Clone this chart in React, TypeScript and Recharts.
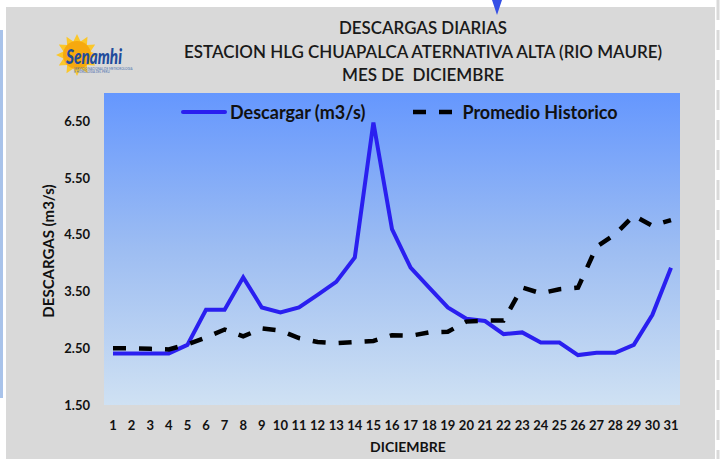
import { Label, Line, LineChart, XAxis, YAxis } from 'recharts'

const FONT = 'Lato, "Open Sans", sans-serif'
const BLUE = '#2a1ff0'

// dias del mes
const days = Array.from({ length: 31 }, (_, i) => String(i + 1))

// caudal diario (m3/s)
const descarga = [
  2.41, 2.41, 2.41, 2.41, 2.56, 3.18, 3.18, 3.75, 3.22, 3.13, 3.22, 3.44, 3.67, 4.1, 6.48, 4.6,
  3.92, 3.57, 3.22, 3.02, 2.98, 2.75, 2.78, 2.6, 2.6, 2.38, 2.42, 2.42, 2.56, 3.09, 3.92,
]

// promedio historico (m3/s)
const promedio = [
  2.5, 2.5, 2.49, 2.48, 2.57, 2.69, 2.83, 2.71, 2.85, 2.81, 2.68, 2.61, 2.59, 2.61, 2.63, 2.73,
  2.72, 2.78, 2.79, 2.97, 2.99, 2.99, 3.57, 3.47, 3.54, 3.57, 4.29, 4.51, 4.84, 4.66, 4.76,
]

const yTicks = [1.5, 2.5, 3.5, 4.5, 5.5, 6.5]

const titleLines = [
  'DESCARGAS DIARIAS',
  'ESTACION HLG CHUAPALCA ATERNATIVA ALTA (RIO MAURE)',
  'MES DE  DICIEMBRE',
]

const data = days.map((d, i) => ({ dia: d, descarga: descarga[i], promedio: promedio[i] }))

const tickStyle = { fill: '#111', fontSize: 13, fontWeight: 700, fontFamily: FONT }

function LegendBox() {
  return (
    <div
      style={{
        position: 'absolute',
        left: 181,
        top: 101,
        display: 'flex',
        alignItems: 'center',
        fontFamily: FONT,
        fontWeight: 700,
        fontSize: 18,
        color: '#111',
        whiteSpace: 'nowrap',
      }}
    >
      <svg width={46} height={10}>
        <line x1={2} x2={44} y1={5} y2={5} stroke={BLUE} strokeWidth={4} strokeLinecap="round" />
      </svg>
      <span style={{ marginLeft: 3 }}>Descargar (m3/s)</span>
      <svg width={46} height={10} style={{ marginLeft: 46 }}>
        <line x1={2} x2={44} y1={5} y2={5} stroke="#000" strokeWidth={4.5} strokeDasharray="13 13" />
      </svg>
      <span style={{ marginLeft: 5 }}>Promedio Historico</span>
    </div>
  )
}

function Sun() {
  const pts: string[] = []
  for (let i = 0; i < 24; i++) {
    const r = i % 2 === 0 ? 21 : 14
    const a = (i * Math.PI) / 12
    pts.push(`${77 + r * Math.cos(a)},${55 + r * Math.sin(a)}`)
  }
  return (
    <g>
      <polygon points={pts.join(' ')} fill="#fbc72a" />
      <circle cx={77} cy={55} r={14} fill="#f6a90f" />
    </g>
  )
}

export default function App() {
  return (
    <div style={{ position: 'absolute', left: 0, top: 0, width: 721, height: 459, background: '#fff', overflow: 'hidden' }}>
      <div style={{ position: 'absolute', left: 0, top: 30, width: 3, height: 368, background: '#a9c3ea' }} />
      <div
        style={{
          position: 'absolute',
          left: 6,
          top: 7,
          width: 709,
          height: 460,
          background: '#d9d9d9',
          outline: '2px dashed #ffffff',
        }}
      />
      <div
        style={{
          position: 'absolute',
          left: 104,
          top: 93,
          width: 576,
          height: 312,
          background: 'linear-gradient(to bottom, #6597fe 0%, #9dbdf2 50%, #cfe1f3 100%)',
        }}
      />
      <div style={{ position: 'absolute', left: 0, top: 0 }}>
        <LineChart width={721} height={459} data={data} margin={{ top: 93, right: 41, left: 0, bottom: 0 }}>
          <XAxis
            dataKey="dia"
            interval={0}
            padding={{ left: 9, right: 9 }}
            axisLine={false}
            tickLine={false}
            tickSize={0}
            tickMargin={16}
            height={54}
            tick={tickStyle}
          >
            <Label
              value="DICIEMBRE"
              position="insideBottom"
              offset={7}
              dx={16}
              style={{ fill: '#111', fontSize: 14, fontWeight: 700, fontFamily: FONT }}
            />
          </XAxis>
          <YAxis
            domain={[1.5, 7]}
            ticks={yTicks}
            tickFormatter={(v: number) => v.toFixed(2)}
            axisLine={false}
            tickLine={false}
            tickSize={0}
            tickMargin={14}
            width={104}
            tick={tickStyle}
          >
            <Label
              value="DESCARGAS (m3/s)"
              angle={-90}
              position="insideLeft"
              offset={49}
              dy={2}
              style={{ textAnchor: 'middle', fill: '#111', fontSize: 15, fontWeight: 700, fontFamily: FONT }}
            />
          </YAxis>
          <Line
            dataKey="descarga"
            type="linear"
            stroke={BLUE}
            strokeWidth={4}
            dot={false}
            isAnimationActive={false}
          />
          <Line
            dataKey="promedio"
            type="linear"
            stroke="#000"
            strokeWidth={4.5}
            strokeDasharray="13 13"
            dot={false}
            isAnimationActive={false}
          />
        </LineChart>
      </div>
      <LegendBox />
      <svg width={721} height={459} style={{ position: 'absolute', left: 0, top: 0, pointerEvents: 'none' }}>
        <line x1={718} x2={718} y1={0} y2={459} stroke="#d9d9d9" strokeWidth={3} strokeDasharray="20 10" />
        <polygon points="492,0 502,0 497,15" fill="#3550e6" />
        <Sun />
        <text x={66} y={64} fontFamily={FONT} fontSize={21} fontWeight={900} fontStyle="italic" fill="#1f4c9c" textLength={56} lengthAdjust="spacingAndGlyphs">
          Senamhi
        </text>
        <text x={74} y={69.5} fontFamily={FONT} fontSize={3} fill="#4a6fae">SERVICIO NACIONAL DE METEOROLOGIA</text>
        <text x={74} y={73} fontFamily={FONT} fontSize={3} fill="#4a6fae">E HIDROLOGIA DEL PERU</text>
        {titleLines.map((t, i) => (
          <text
            key={t}
            x={423}
            y={[34, 58, 81][i]}
            textAnchor="middle"
            fontFamily={FONT}
            fontSize={17}
            fontWeight={600}
            fill="#1a1a1a"
            style={{ whiteSpace: 'pre' }}
            textLength={[168, 478, 162][i]}
            lengthAdjust="spacingAndGlyphs"
          >
            {t}
          </text>
        ))}
      </svg>
    </div>
  )
}
